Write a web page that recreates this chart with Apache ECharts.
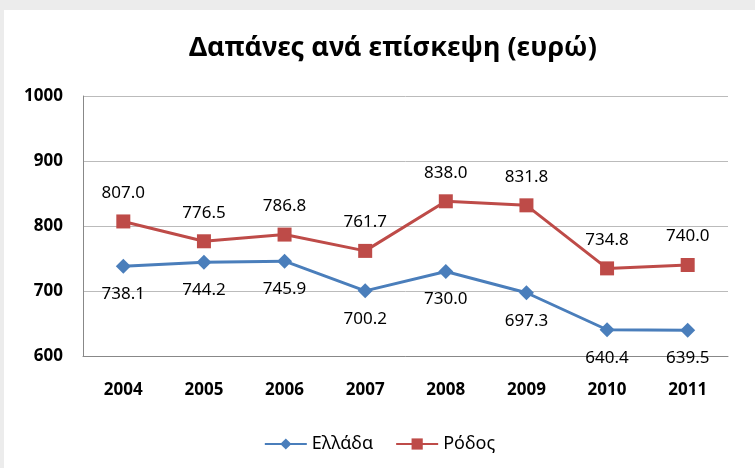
<!DOCTYPE html>
<html>
<head>
<meta charset="utf-8">
<script src="https://cdn.jsdelivr.net/npm/echarts@6/dist/echarts.min.js"></script>
<style>
    html, body { margin: 0; padding: 0; background: #ececec; }
    #myChart { position: absolute; left: 4px; top: 10px; width: 751px; height: 458px; background: #fff; }
</style>
</head>
<body>
<div id="myChart"></div>
<script>
// δεδομένα
var years = ['2004', '2005', '2006', '2007', '2008', '2009', '2010', '2011'];
var ellada = [738.1, 744.2, 745.9, 700.2, 730.0, 697.3, 640.4, 639.5];
var rodos = [807.0, 776.5, 786.8, 761.7, 838.0, 831.8, 734.8, 740.0];

var fontName = "'Noto Sans', 'Open Sans', sans-serif";

var myChart = echarts.init(document.getElementById('myChart'));
var option = {
    animation: false,
    title: {
        text: 'Δαπάνες ανά επίσκεψη (ευρώ)',
        left: 180,
        top: 20,
        textStyle: { fontFamily: fontName, fontSize: 27, fontWeight: 'bold', color: '#000' }
    },
    legend: {
        data: ['Ελλάδα', 'Ρόδος'],
        bottom: 10,
        left: 'center',
        itemWidth: 42,
        itemHeight: 14,
        itemGap: 22,
        textStyle: { fontFamily: fontName, fontSize: 18, color: '#000' }
    },
    grid: {
        left: 79,
        right: 27,
        top: 86,
        bottom: 112
    },
    xAxis: {
        type: 'category',
        data: years,
        axisLine: { lineStyle: { color: '#888', width: 1 } },
        axisTick: { show: false },
        axisLabel: { margin: 26, fontFamily: fontName, fontSize: 17, fontWeight: 'bold', color: '#000' }
    },
    yAxis: {
        type: 'value',
        min: 600,
        max: 1000,
        interval: 100,
        axisLine: { show: true, lineStyle: { color: '#888', width: 1 } },
        axisTick: { show: false },
        axisLabel: {
            margin: 20,
            formatter: function (value) { return value; },
            fontFamily: fontName, fontSize: 17, fontWeight: 'bold', color: '#000'
        },
        splitLine: { lineStyle: { color: '#bbb', width: 1 } }
    },
    series: [{
        name: 'Ελλάδα',
        type: 'line',
        data: ellada,
        symbol: 'diamond',
        symbolSize: 15,
        lineStyle: { color: '#4a7ebb', width: 3 },
        itemStyle: { color: '#4a7ebb' },
        label: {
            show: true,
            position: 'bottom',
            distance: 12,
            formatter: function (p) { return p.value.toFixed(1); },
            fontFamily: fontName, fontSize: 17, color: '#000'
        }
    }, {
        name: 'Ρόδος',
        type: 'line',
        data: rodos,
        symbol: 'rect',
        symbolSize: 14,
        lineStyle: { color: '#be4b48', width: 3 },
        itemStyle: { color: '#be4b48' },
        label: {
            show: true,
            position: 'top',
            distance: 13,
            formatter: function (p) { return p.value.toFixed(1); },
            fontFamily: fontName, fontSize: 17, color: '#000'
        }
    }]
};
myChart.setOption(option);
window.onresize = myChart.resize;
</script>
</body>
</html>
